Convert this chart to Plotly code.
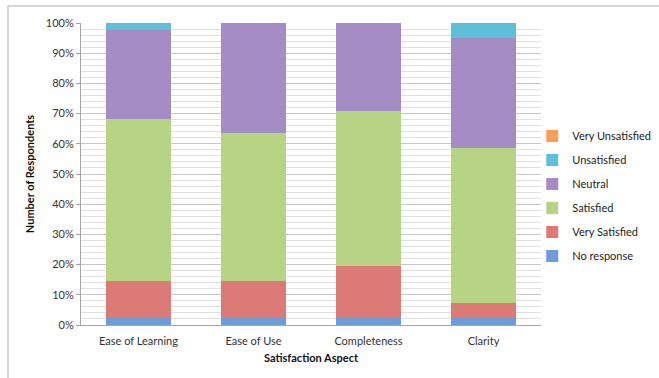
import plotly.graph_objects as go

categories = ["Ease of Learning", "Ease of Use", "Completeness", "Clarity"]
series_names = ["No response", "Very Satisfied", "Satisfied", "Neutral", "Unsatisfied", "Very Unsatisfied"]
no_response = [1, 1, 1, 1]
very_satisfied = [5, 5, 7, 2]
satisfied = [22, 20, 21, 21]
neutral = [12, 15, 12, 15]
unsatisfied = [1, 0, 0, 2]
very_unsatisfied = [0, 0, 0, 0]
y_ticks = [0, 10, 20, 30, 40, 50, 60, 70, 80, 90, 100]
y_tick_labels = [f"{v}%" for v in y_ticks]

series_values = [no_response, very_satisfied, satisfied, neutral, unsatisfied, very_unsatisfied]
colors = ["#6f9bd6", "#dc7a78", "#b7d384", "#a48cc4", "#5dbfd8", "#f7a05a"]

FONT = "Lato, 'Open Sans', sans-serif"

fig = go.Figure()
n = len(series_names)
for i, (name, vals, col) in enumerate(zip(series_names, series_values, colors)):
    fig.add_trace(go.Bar(
        x=categories, y=vals, name=name,
        marker=dict(color=col, line=dict(width=0)),
        legendgroup=f"g{i}", legendrank=n - i,
    ))

fig.update_layout(
    width=659, height=378,
    barmode="stack", barnorm="percent",
    bargap=0.43,
    paper_bgcolor="white", plot_bgcolor="white",
    margin=dict(l=81, r=118, t=23, b=53, autoexpand=False),
    font=dict(family=FONT, size=11, color="#333333"),
    showlegend=True,
    legend=dict(
        x=0.981, y=0.427, xanchor="left", yanchor="middle",
        traceorder="grouped", tracegroupgap=5,
        font=dict(family=FONT, size=11, color="#222222"),
        bgcolor="rgba(0,0,0,0)", itemwidth=30,
    ),
    xaxis=dict(
        showgrid=False, showline=True, linecolor="#a6a6a6", linewidth=1,
        ticks="", ticklabelstandoff=6, tickfont=dict(size=11, color="#333333"),
        title=dict(text="<b>Satisfaction Aspect</b>", font=dict(size=11, color="#111111"), standoff=8),
    ),
    yaxis=dict(
        range=[0, 100], tickvals=y_ticks, ticktext=y_tick_labels,
        showgrid=True, gridcolor="#c8c8c8", gridwidth=1,
        minor=dict(dtick=2, showgrid=True, gridcolor="#e0e0e0", gridwidth=1),
        showline=True, linecolor="#a6a6a6", linewidth=1,
        ticks="outside", ticklen=4, tickcolor="#a6a6a6",
        tickfont=dict(size=11, color="#333333"),
        zeroline=False,
        title=dict(text="<b>Number of Respondents</b>", font=dict(size=11, color="#111111"), standoff=8),
    ),
)

# outer chart frame (only top and left edges visible in the reference)
fig.add_shape(type="rect", xref="paper", yref="paper",
              x0=-73/460, x1=1.6, y0=-0.5, y1=(325-6)/302,
              line=dict(color="#c9c9c9", width=1.5), fillcolor="rgba(0,0,0,0)", layer="below")

fig.write_html("out.html")
